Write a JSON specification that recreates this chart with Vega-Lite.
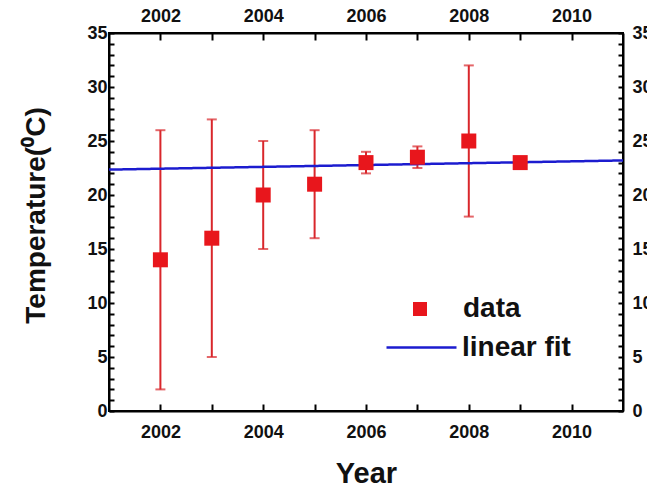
{
  "$schema": "https://vega.github.io/schema/vega-lite/v6.json",
  "width": 514,
  "height": 378,
  "autosize": {"type": "none"},
  "padding": {"left": 109, "top": 33, "right": 24, "bottom": 76},
  "background": "white",
  "config": {
    "view": {"stroke": "black", "strokeWidth": 2},
    "font": "Liberation Sans",
    "axis": {
      "domainColor": "black",
      "domainWidth": 2,
      "ticks": true,
      "tickColor": "black",
      "tickWidth": 2,
      "labelFont": "Liberation Sans",
      "labelFontWeight": "bold",
      "labelFontSize": 18,
      "labelColor": "#111",
      "titleFont": "Liberation Sans",
      "titleFontWeight": "bold",
      "titleColor": "#111",
      "grid": false
    },
    "legend": {"padding": 0, "labelFont": "Liberation Sans", "labelFontWeight": "bold", "labelFontSize": 28, "labelColor": "#111"}
  },
  "datasets": {
    "obs": [
      {"year": 2002, "temp": 14, "lo": 2, "hi": 26, "series": "data"},
      {"year": 2003, "temp": 16, "lo": 5, "hi": 27, "series": "data"},
      {"year": 2004, "temp": 20, "lo": 15, "hi": 25, "series": "data"},
      {"year": 2005, "temp": 21, "lo": 16, "hi": 26, "series": "data"},
      {"year": 2006, "temp": 23, "lo": 22, "hi": 24, "series": "data"},
      {"year": 2007, "temp": 23.5, "lo": 22.5, "hi": 24.5, "series": "data"},
      {"year": 2008, "temp": 25, "lo": 18, "hi": 32, "series": "data"},
      {"year": 2009, "temp": 23, "lo": 22.7, "hi": 23.3, "series": "data"}
    ],
    "fit": [
      {"year": 2001, "temp": 22.35, "series": "linear fit"},
      {"year": 2011, "temp": 23.2, "series": "linear fit"}
    ]
  },
  "resolve": {"axis": {"x": "independent", "y": "independent"}},
  "layer": [
    {
      "data": {"name": "obs"},
      "mark": {"type": "rule", "color": "#d9262b", "strokeWidth": 2},
      "encoding": {
        "x": {"field": "year", "type": "quantitative", "scale": {"domain": [2001, 2011], "nice": false, "zero": false},
          "axis": {"orient": "bottom", "title": "Year", "titleFontSize": 29, "titleX": 257, "titleY": 71, "titleBaseline": "alphabetic", "titleAlign": "center",
            "values": [2002, 2003, 2004, 2005, 2006, 2007, 2008, 2009, 2010], "format": "d",
            "labelExpr": "datum.value % 2 === 0 ? datum.label : ''",
            "tickSize": -7,
            "labelPadding": 19}},
        "y": {"field": "lo", "type": "quantitative", "scale": {"domain": [0, 35], "nice": false},
          "axis": {"orient": "left", "title": "Temperature(⁰C)", "titleFontSize": 28, "titleX": -73, "titleY": 182, "titleBaseline": "middle", "titleAlign": "center", "titleAngle": 270,
            "values": [0,1,2,3,4,5,6,7,8,9,10,11,12,13,14,15,16,17,18,19,20,21,22,23,24,25,26,27,28,29,30,31,32,33,34,35],
            "labelExpr": "datum.value % 5 === 0 ? datum.label : ''",
            "tickSize": -5,
            "labelPadding": 7}},
        "y2": {"field": "hi"}
      }
    },
    {
      "data": {"name": "obs"},
      "mark": {"type": "tick", "orient": "horizontal", "color": "#d9262b", "size": 10, "thickness": 2},
      "encoding": {
        "x": {"field": "year", "type": "quantitative", "axis": null},
        "y": {"field": "lo", "type": "quantitative", "axis": null}
      }
    },
    {
      "data": {"name": "obs"},
      "mark": {"type": "tick", "orient": "horizontal", "color": "#d9262b", "size": 10, "thickness": 2},
      "encoding": {
        "x": {"field": "year", "type": "quantitative", "axis": null},
        "y": {"field": "hi", "type": "quantitative", "axis": null}
      }
    },
    {
      "data": {"name": "fit"},
      "mark": {"type": "line", "color": "#1c1ccf", "strokeWidth": 2.5},
      "encoding": {
        "x": {"field": "year", "type": "quantitative",
          "axis": {"orient": "top", "title": null,
            "values": [2002, 2003, 2004, 2005, 2006, 2007, 2008, 2009, 2010], "format": "d",
            "labelExpr": "datum.value % 2 === 0 ? datum.label : ''",
            "tickSize": -7,
            "labelPadding": 15}},
        "y": {"field": "temp", "type": "quantitative",
          "axis": {"orient": "right", "title": null,
            "values": [0,1,2,3,4,5,6,7,8,9,10,11,12,13,14,15,16,17,18,19,20,21,22,23,24,25,26,27,28,29,30,31,32,33,34,35],
            "labelExpr": "datum.value % 5 === 0 ? datum.label : ''",
            "tickSize": -5,
            "labelPadding": 14}},
        "strokeDash": {"field": "series", "type": "nominal", "scale": {"domain": ["linear fit"], "range": [[1, 0]]},
          "legend": {"title": null, "orient": "none", "legendX": 276, "legendY": 278, "symbolType": "stroke", "symbolSize": 4900, "symbolStrokeColor": "#1c1ccf", "symbolStrokeWidth": 2.5, "labelOffset": 4}}
      }
    },
    {
      "data": {"name": "obs"},
      "mark": {"type": "point", "shape": "square", "filled": true, "color": "#e8161c", "opacity": 1, "size": 225},
      "encoding": {
        "x": {"field": "year", "type": "quantitative", "axis": null},
        "y": {"field": "temp", "type": "quantitative", "axis": null},
        "shape": {"field": "series", "type": "nominal", "scale": {"domain": ["data"], "range": ["square"]},
          "legend": {"title": null, "orient": "none", "legendX": 297, "legendY": 262, "symbolSize": 196, "symbolFillColor": "#e8161c", "symbolStrokeColor": "#e8161c", "symbolStrokeWidth": 0, "symbolOpacity": 1, "labelOffset": 29}}
      }
    }
  ]
}
